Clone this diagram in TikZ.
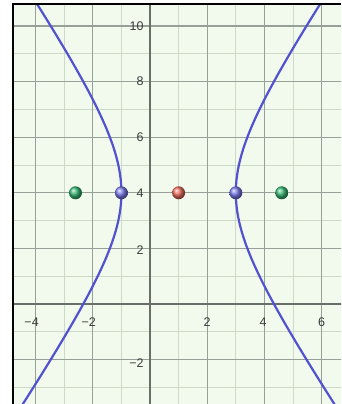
\documentclass[tikz,border=0pt]{standalone}
\usepackage{fontspec}
\setmainfont{Liberation Sans}
\begin{document}
\begin{tikzpicture}[x=28.6pt,y=27.8pt]
\definecolor{bgc}{RGB}{241,250,236}
\definecolor{minorc}{RGB}{205,218,200}
\definecolor{majorc}{RGB}{150,160,150}
\definecolor{axisc}{RGB}{105,110,105}
\definecolor{curvec}{RGB}{82,82,208}
\definecolor{labc}{RGB}{60,60,60}
\definecolor{ballblue}{RGB}{125,125,240}
\definecolor{ballgreen}{RGB}{55,185,115}
\definecolor{ballred}{RGB}{240,110,95}
\tikzset{
  minorgrid/.style={minorc, line width=0.9pt},
  majorgrid/.style={majorc, line width=1.2pt},
  axisline/.style={axisc, line width=2pt},
  curve/.style={curvec, line width=2.2pt},
  ticklab/.style={labc, font=\fontsize{12.5}{13}\selectfont, inner sep=0pt},
  pt/.style={circle, inner sep=0pt, minimum size=13pt, draw=none}
}
\useasboundingbox (-5.245,-3.597) rectangle (6.678,10.935);
\fill[white] (-5.245,-3.597) rectangle (6.678,10.935);
\begin{scope}
\clip (-4.79,-3.597) rectangle (6.678,10.79);
\fill[bgc] (-5,-4) rectangle (7,11);
\foreach \i in {-5,...,7} \draw[minorgrid] (\i,-4) -- (\i,11);
\foreach \j in {-4,...,11} \draw[minorgrid] (-5,\j) -- (7,\j);
\foreach \i in {-4,-2,2,4,6} \draw[majorgrid] (\i,-4) -- (\i,11);
\foreach \j in {-2,2,4,6,8,10} \draw[majorgrid] (-5,\j) -- (7,\j);
\draw[axisline] (0,-4) -- (0,11);
\draw[axisline] (-5,0) -- (7,0);
\draw[curve] plot[domain=-1.8:1.8, samples=120, variable=\t] ({1+2*cosh(\t)},{4+3*sinh(\t)});
\draw[curve] plot[domain=-1.8:1.8, samples=120, variable=\t] ({1-2*cosh(\t)},{4+3*sinh(\t)});
\end{scope}
\draw[black, line width=2pt] (-4.79,-3.597) -- (-4.79,10.79) -- (6.678,10.79);
% x labels
\node[ticklab] (xm4) at (-4.14,-0.65) {−4};
\node[ticklab] (xm2) at (-2.14,-0.65) {−2};
\node[ticklab] (x2) at (2,-0.65) {2};
\node[ticklab] (x4) at (3.95,-0.65) {4};
\node[ticklab] (x6) at (6,-0.65) {6};
% y labels
\node[ticklab, anchor=east] (y10) at (-0.22,10) {10};
\node[ticklab, anchor=east] (y8) at (-0.22,8) {8};
\node[ticklab, anchor=east] (y6) at (-0.22,6) {6};
\node[ticklab, anchor=east] (y4) at (-0.22,4) {4};
\node[ticklab, anchor=east] (y2) at (-0.22,1.95) {2};
\node[ticklab, anchor=east] (ym2) at (-0.22,-2.12) {−2};
% points
\node[pt, ball color=ballgreen] (f1) at (-2.606,4) {};
\node[pt, ball color=ballgreen] (f2) at (4.606,4) {};
\node[pt, ball color=ballblue] (v1) at (-1,4) {};
\node[pt, ball color=ballblue] (v2) at (3,4) {};
\node[pt, ball color=ballred] (c) at (1,4) {};
\end{tikzpicture}
\end{document}
